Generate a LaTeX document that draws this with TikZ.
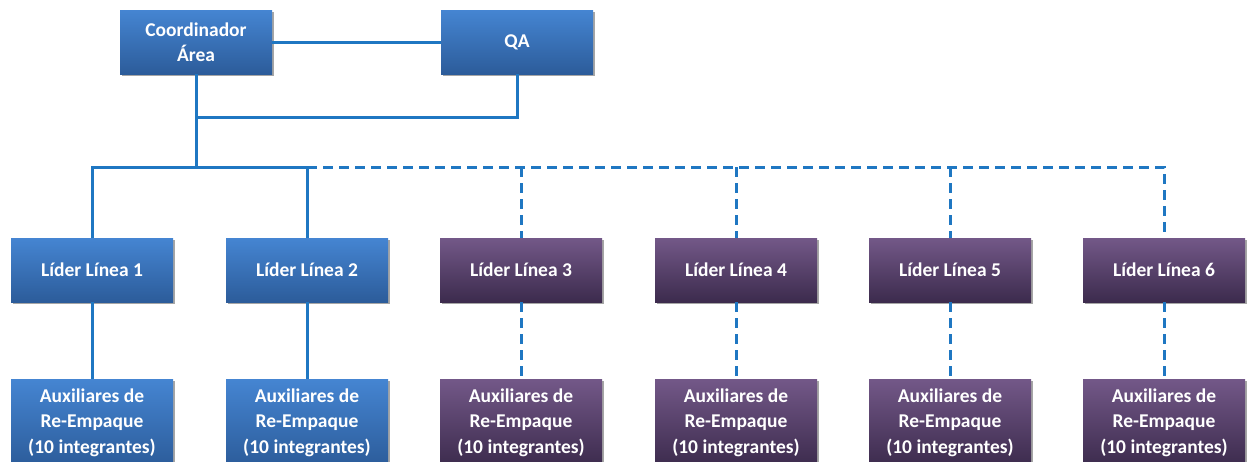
\documentclass[tikz,border=0pt]{standalone}
\usepackage{fontspec}
\setmainfont{Carlito}
\usetikzlibrary{shadows}

\definecolor{bluetop}{HTML}{4585D2}
\definecolor{bluebot}{HTML}{2C5C9A}
\definecolor{purpletop}{HTML}{735888}
\definecolor{purplebot}{HTML}{3C2B4D}
\definecolor{linkblue}{HTML}{1F77C2}

\begin{document}
\begin{tikzpicture}[x=1pt,y=-1pt,
    box/.style={minimum width=162pt, minimum height=64pt, inner sep=2pt, align=center,
      text=white, font=\fontsize{19.5}{25.5}\selectfont\bfseries,
      drop shadow={shadow xshift=1.5pt, shadow yshift=-2pt, opacity=0.35, fill=black}},
    bluebox/.style={box, top color=bluetop, bottom color=bluebot},
    purplebox/.style={box, top color=purpletop, bottom color=purplebot},
    link/.style={draw=linkblue, line width=3pt},
    dashlink/.style={link, dash pattern=on 10pt off 6pt}]

  \useasboundingbox (0,0) rectangle (1247,461);

  % top level
  \node[bluebox, minimum width=152pt] (coord) at (196,42) {Coordinador\\Área};
  \node[bluebox, minimum width=152pt] (qa) at (517,42) {QA};

  % line leaders and their teams
  \foreach \i/\x in {1/92,2/307} {
    \node[bluebox] (lider\i) at (\x,270) {Líder Línea \i};
    \node[bluebox, minimum height=87pt] (aux\i) at (\x,422.5) {Auxiliares de\\Re-Empaque\\(10 integrantes)};
  }
  \foreach \i/\x in {3/521,4/736,5/950,6/1164} {
    \node[purplebox] (lider\i) at (\x,270) {Líder Línea \i};
    \node[purplebox, minimum height=87pt] (aux\i) at (\x,422.5) {Auxiliares de\\Re-Empaque\\(10 integrantes)};
  }

  \coordinate (join) at (196,117);
  \coordinate (bus) at (196,167);

  % connectors
  \draw[link] (coord) -- (qa);
  \draw[link] (coord.south) -- (join) -| (qa.south);
  \draw[link] (join) -- (bus);
  \draw[link] (lider1.north) |- (lider2.north |- bus) -- (lider2.north);
  \draw[dashlink] (lider2.north |- bus) -| (lider6.north);
  \foreach \i in {3,4,5}
    \draw[dashlink] (lider\i.north |- bus) -- (lider\i.north);
  \foreach \i in {1,2}
    \draw[link] (lider\i) -- (aux\i);
  \foreach \i in {3,...,6}
    \draw[dashlink] (lider\i) -- (aux\i);
\end{tikzpicture}
\end{document}
